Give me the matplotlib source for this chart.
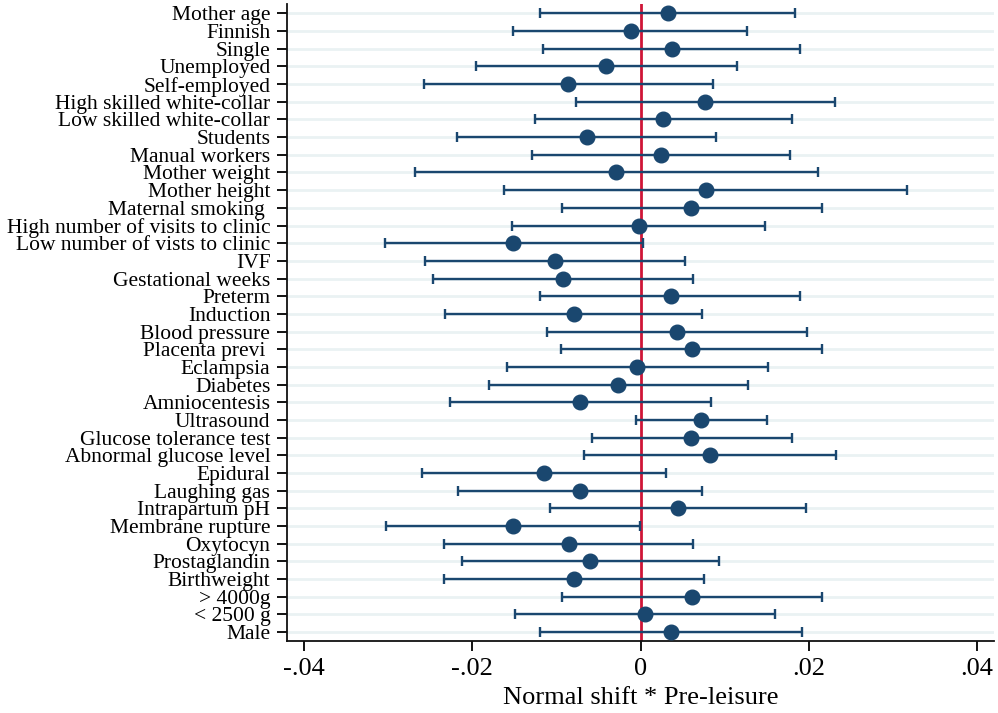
import numpy as np
import matplotlib
matplotlib.use("Agg")
import matplotlib.pyplot as plt

plt.rcParams['font.family'] = ['Liberation Serif', 'DejaVu Serif']

# variables, top to bottom
labels = ["Mother age", "Finnish", "Single", "Unemployed", "Self-employed",
          "High skilled white-collar", "Low skilled white-collar", "Students",
          "Manual workers", "Mother weight", "Mother height", "Maternal smoking ",
          "High number of visits to clinic", "Low number of vists to clinic",
          "IVF", "Gestational weeks", "Preterm", "Induction", "Blood pressure",
          "Placenta previ ", "Eclampsia", "Diabetes", "Amniocentesis",
          "Ultrasound", "Glucose tolerance test", "Abnormal glucose level",
          "Epidural", "Laughing gas", "Intrapartum pH", "Membrane rupture",
          "Oxytocyn", "Prostaglandin", "Birthweight", "> 4000g", "< 2500 g",
          "Male"]

coef = [0.00323, -0.00117, 0.0037, -0.00406, -0.00857, 0.0077, 0.00271,
        -0.0064, 0.00244, -0.00287, 0.00778, 0.00604, -0.00014, -0.0151,
        -0.01016, -0.00921, 0.00359, -0.00794, 0.00434, 0.00612, -0.00045,
        -0.00267, -0.00715, 0.00719, 0.00604, 0.00826, -0.0115, -0.00719,
        0.00446, -0.0151, -0.00853, -0.00596, -0.00786, 0.00616, 0.0005,
        0.00362]

ci_low = [-0.01194, -0.0151, -0.0116, -0.0195, -0.02576, -0.00766, -0.0125,
          -0.02184, -0.01289, -0.02683, -0.01622, -0.00937, -0.01523, -0.03035,
          -0.02564, -0.02465, -0.0119, -0.02327, -0.01107, -0.00941, -0.0159,
          -0.01804, -0.0226, -0.00053, -0.0058, -0.00671, -0.02596, -0.02168,
          -0.01075, -0.03027, -0.02331, -0.02121, -0.02331, -0.00937, -0.01491,
          -0.0119]

ci_high = [0.0184, 0.0127, 0.019, 0.01147, 0.00857, 0.0231, 0.01796, 0.00897,
           0.01776, 0.02113, 0.0317, 0.02152, 0.01483, 0.00026, 0.00532,
           0.00624, 0.019, 0.0073, 0.01978, 0.0216, 0.01511, 0.01273, 0.00834,
           0.01499, 0.018, 0.02327, 0.00299, 0.0073, 0.01966, -0.00002, 0.0062,
           0.00933, 0.00754, 0.0216, 0.016, 0.01915]

xticks = [-0.04, -0.02, 0, 0.02, 0.04]
xtick_labels = ["-.04", "-.02", "0", ".02", ".04"]

navy = "#1a476f"
grid_col = "#eaf2f3"
red = "#cf1537"

fig = plt.figure(figsize=(9.98, 7.13), dpi=100)
ax = fig.add_axes([0.2876, 0.101, 0.7084, 0.8934])

y = np.arange(len(labels))
coef = np.array(coef)
lo = np.array(ci_low)
hi = np.array(ci_high)

for yy in y:
    ax.axhline(yy, color=grid_col, lw=2, zorder=0)

ax.axvline(0, color=red, lw=2, zorder=1)

ax.errorbar(coef, y, xerr=[coef - lo, hi - coef], fmt='o', color=navy,
            ms=10.5, elinewidth=1.7, capsize=3.5, capthick=1.7, zorder=3)

ax.set_ylim(len(labels) - 0.5, -0.53)
ax.set_xlim(-0.042, 0.042)
ax.set_yticks(y)
ax.set_yticklabels(labels, fontsize=15.5)
ax.set_xticks(xticks)
ax.set_xticklabels(xtick_labels, fontsize=19)
ax.set_xlabel("Normal shift * Pre-leisure", fontsize=19, labelpad=5)

for s in ['top', 'right']:
    ax.spines[s].set_visible(False)
for s in ['left', 'bottom']:
    ax.spines[s].set_linewidth(1.3)
    ax.spines[s].set_color('#111111')
ax.tick_params(axis='y', length=7, width=1.3, pad=5)
ax.tick_params(axis='x', length=7, width=1.3, pad=5)

fig.savefig("out.png", dpi=100)
